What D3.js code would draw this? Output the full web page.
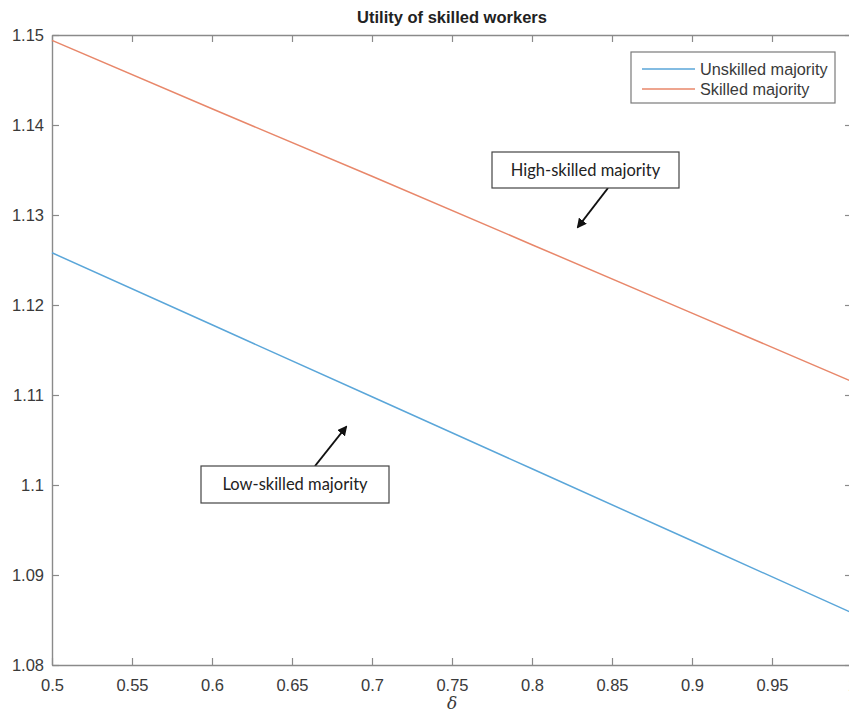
<!DOCTYPE html>
<html>
<head>
<meta charset="utf-8">
<script src="https://cdn.jsdelivr.net/npm/d3@7"></script>
<style>
  html, body { margin: 0; padding: 0; background: #fff; }
  svg { display: block; }
</style>
</head>
<body>
<svg id="chart" width="849" height="715"></svg>
<script>
// δ values and the utility of skilled workers under each majority
const delta = [0.5, 0.6, 0.7, 0.8, 0.9, 1.0];
const unskilledMajority = [1.1258, 1.1178, 1.1098, 1.1018, 1.0938, 1.0858];
const skilledMajority = [1.1494, 1.1418, 1.1343, 1.1267, 1.1191, 1.1115];

const xTicks = [0.5, 0.55, 0.6, 0.65, 0.7, 0.75, 0.8, 0.85, 0.9, 0.95, 1];
const xTickLabels = ["0.5", "0.55", "0.6", "0.65", "0.7", "0.75", "0.8", "0.85", "0.9", "0.95", "1"];
const yTicks = [1.08, 1.09, 1.1, 1.11, 1.12, 1.13, 1.14, 1.15];
const yTickLabels = ["1.08", "1.09", "1.1", "1.11", "1.12", "1.13", "1.14", "1.15"];

const seriesNames = ["Unskilled majority", "Skilled majority"];
const seriesColors = ["#5aa6d9", "#e8876a"];

const svg = d3.select("#chart");
const plotLeft = 52, plotRight = 852, plotTop = 35, plotBottom = 665;

const x = d3.scaleLinear().domain([0.5, 1]).range([plotLeft, plotRight]);
const y = d3.scaleLinear().domain([1.08, 1.15]).range([plotBottom, plotTop]);

const axisColor = "#8a8a8a";
const textColor = "#3a3a3a";
const tickFont = "Liberation Sans, Arial, Helvetica, sans-serif";

function styleAxis(g) {
  g.select(".domain").attr("stroke", axisColor).attr("stroke-width", 1.4);
  g.selectAll(".tick line").attr("stroke", axisColor).attr("stroke-width", 1.2);
  g.selectAll(".tick text").attr("fill", textColor)
    .style("font-family", tickFont).style("font-size", "16.5px");
}

// bottom axis with inward ticks
svg.append("g")
  .attr("transform", `translate(0,${plotBottom})`)
  .call(d3.axisBottom(x).tickValues(xTicks)
    .tickFormat((d, i) => xTickLabels[i]).tickSize(-7).tickSizeOuter(0).tickPadding(14))
  .call(styleAxis);

// top frame
svg.append("g")
  .attr("transform", `translate(0,${plotTop})`)
  .call(d3.axisTop(x).tickValues(xTicks).tickFormat("").tickSize(-7).tickSizeOuter(0))
  .call(styleAxis);

// left axis
svg.append("g")
  .attr("transform", `translate(${plotLeft},0)`)
  .call(d3.axisLeft(y).tickValues(yTicks)
    .tickFormat((d, i) => yTickLabels[i]).tickSize(-7).tickSizeOuter(0).tickPadding(8))
  .call(styleAxis);

// right frame
svg.append("g")
  .attr("transform", `translate(${plotRight},0)`)
  .call(d3.axisRight(y).tickValues(yTicks).tickFormat("").tickSize(-7).tickSizeOuter(0))
  .call(styleAxis);

// series lines
const line = d3.line().x((d, i) => x(delta[i])).y(d => y(d));
[unskilledMajority, skilledMajority].forEach((vals, k) => {
  svg.append("path")
    .datum(vals)
    .attr("d", line)
    .attr("fill", "none")
    .attr("stroke", seriesColors[k])
    .attr("stroke-width", 1.5);
});

// title
svg.append("text")
  .attr("x", (plotLeft + plotRight) / 2)
  .attr("y", 23)
  .attr("text-anchor", "middle")
  .attr("fill", "#222")
  .style("font-family", tickFont)
  .style("font-size", "16.5px")
  .style("font-weight", "bold")
  .text("Utility of skilled workers");

// x axis label
svg.append("text")
  .attr("x", (plotLeft + plotRight) / 2)
  .attr("y", 709)
  .attr("text-anchor", "middle")
  .attr("fill", textColor)
  .style("font-family", "DejaVu Serif, serif")
  .style("font-style", "italic")
  .style("font-size", "17px")
  .text("δ");

// legend
const legend = svg.append("g");
legend.append("rect")
  .attr("x", 631).attr("y", 52).attr("width", 204).attr("height", 51)
  .attr("fill", "#fff").attr("stroke", "#7a7a7a").attr("stroke-width", 1.2);
seriesNames.forEach((name, k) => {
  const ly = 69 + k * 20;
  legend.append("line")
    .attr("x1", 642).attr("x2", 695).attr("y1", ly).attr("y2", ly)
    .attr("stroke", seriesColors[k]).attr("stroke-width", 1.5);
  legend.append("text")
    .attr("x", 700).attr("y", ly + 6)
    .attr("fill", textColor)
    .style("font-family", tickFont)
    .style("font-size", "16.3px")
    .text(name);
});

// annotation arrows and boxes
svg.append("defs").append("marker")
  .attr("id", "arrowhead")
  .attr("viewBox", "0 0 10 10")
  .attr("refX", 8).attr("refY", 5)
  .attr("markerWidth", 5).attr("markerHeight", 5)
  .attr("orient", "auto")
  .append("path")
  .attr("d", "M0,0 L10,5 L0,10 z")
  .attr("fill", "#111");

const notes = [
  { text: "High-skilled majority", box: [492, 152, 187, 36], from: [608, 188], to: [578, 227] },
  { text: "Low-skilled majority", box: [201, 466, 188, 37], from: [315, 466], to: [346, 427] }
];
notes.forEach(n => {
  svg.append("line")
    .attr("x1", n.from[0]).attr("y1", n.from[1])
    .attr("x2", n.to[0]).attr("y2", n.to[1])
    .attr("stroke", "#111").attr("stroke-width", 2)
    .attr("marker-end", "url(#arrowhead)");
  svg.append("rect")
    .attr("x", n.box[0]).attr("y", n.box[1])
    .attr("width", n.box[2]).attr("height", n.box[3])
    .attr("fill", "#fff").attr("stroke", "#444").attr("stroke-width", 1.2);
  svg.append("text")
    .attr("x", n.box[0] + n.box[2] / 2)
    .attr("y", n.box[1] + n.box[3] / 2 + 5.5)
    .attr("text-anchor", "middle")
    .attr("fill", "#222")
    .style("font-family", "Lato, Carlito, sans-serif")
    .style("font-size", "16.5px")
    .text(n.text);
});
</script>
</body>
</html>
